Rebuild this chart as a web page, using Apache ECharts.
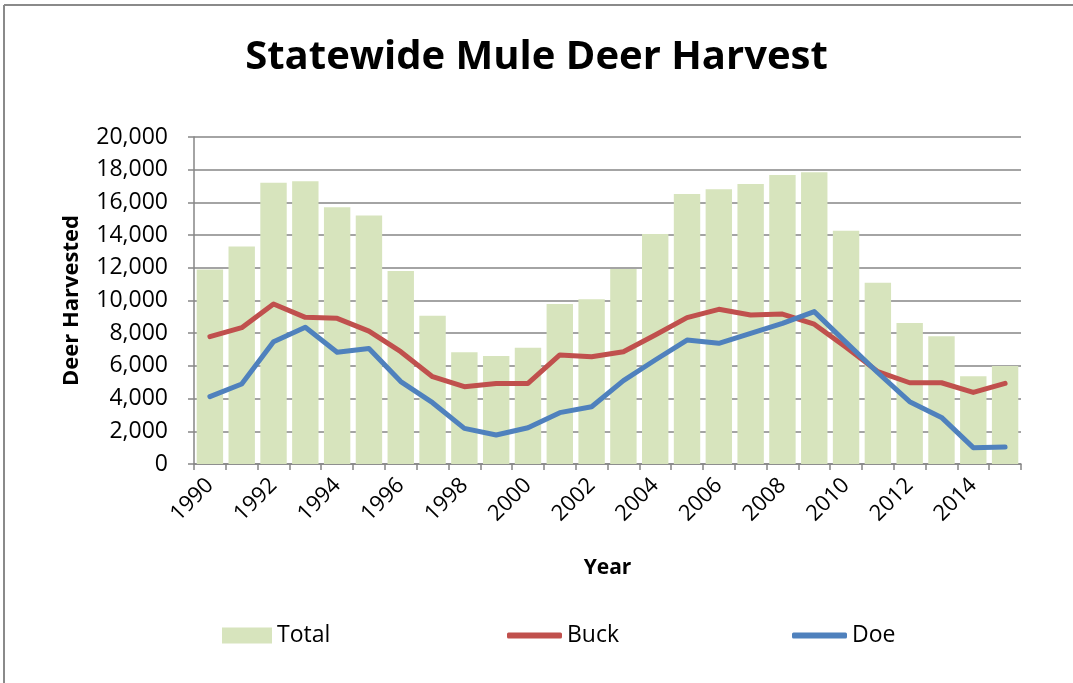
<!DOCTYPE html>
<html>
<head>
<meta charset="utf-8">
<script src="https://cdn.jsdelivr.net/npm/echarts@6/dist/echarts.min.js"></script>
<style>
html,body{margin:0;padding:0;background:#fff;}
#chart{width:1073px;height:683px;}
</style>
</head>
<body>
<div id="chart"></div>
<script>
var years = ['1990','1991','1992','1993','1994','1995','1996','1997','1998','1999','2000','2001','2002','2003','2004','2005','2006','2007','2008','2009','2010','2011','2012','2013','2014','2015'];
var totalValues = [11900,13300,17200,17300,15700,15200,11800,9070,6830,6600,7110,9790,10070,11930,14070,16510,16800,17130,17680,17840,14270,11090,8620,7810,5360,5990];
var buckValues = [7790,8340,9790,8970,8910,8130,6870,5340,4730,4930,4930,6670,6560,6870,7890,8950,9460,9110,9170,8550,7140,5650,4970,4970,4380,4930];
var doeValues = [4120,4890,7480,8360,6830,7070,5040,3750,2180,1770,2220,3140,3500,5100,6360,7580,7380,7990,8600,9320,7440,5580,3810,2850,1000,1040];
var titleText = 'Statewide Mule Deer Harvest';
var xAxisName = 'Year';
var yAxisName = 'Deer Harvested';

var FONT = "'Open Sans', 'Noto Sans', sans-serif";
var chart = echarts.init(document.getElementById('chart'), null, {renderer: 'canvas'});
var legendText = {fontFamily: FONT, fontSize: 23, color: '#000'};
chart.setOption({
  backgroundColor: '#fff',
  animation: false,
  title: {
    text: titleText,
    left: 'center',
    top: 33,
    textStyle: {fontFamily: FONT, fontSize: 40, fontWeight: 'bold', color: '#000'}
  },
  graphic: [
    {type: 'line', shape: {x1: 4, y1: 5, x2: 1073, y2: 5}, style: {stroke: '#8a8a8a', lineWidth: 2}},
    {type: 'line', shape: {x1: 4, y1: 5, x2: 4, y2: 683}, style: {stroke: '#8a8a8a', lineWidth: 2}}
  ],
  legend: [
    {data: [{name: 'Total', icon: 'rect'}], left: 222, top: 624, padding: 0, itemWidth: 50, itemHeight: 16, textStyle: legendText},
    {data: [{name: 'Buck', icon: 'roundRect'}], left: 507, top: 624, padding: 0, itemWidth: 55, itemHeight: 6, textStyle: legendText},
    {data: [{name: 'Doe', icon: 'roundRect'}], left: 792, top: 624, padding: 0, itemWidth: 55, itemHeight: 6, textStyle: legendText}
  ],
  grid: {left: 194, right: 52, top: 137, bottom: 219, containLabel: false},
  xAxis: {
    type: 'category',
    data: years,
    boundaryGap: true,
    name: xAxisName,
    nameLocation: 'middle',
    nameGap: 94,
    nameTextStyle: {fontFamily: FONT, fontSize: 21, fontWeight: 'bold', color: '#000'},
    axisLine: {show: true, lineStyle: {color: '#868686', width: 1.5}},
    axisTick: {show: true, interval: 0, length: 6, alignWithLabel: false, lineStyle: {color: '#868686', width: 1.5}},
    axisLabel: {interval: 1, rotate: 45, fontFamily: FONT, fontSize: 22, color: '#000', margin: 18},
    splitLine: {show: false}
  },
  yAxis: {
    type: 'value',
    min: 0,
    max: 20000,
    interval: 2000,
    name: yAxisName,
    nameLocation: 'middle',
    nameGap: 111,
    nameTextStyle: {fontFamily: FONT, fontSize: 22, fontWeight: 'bold', color: '#000'},
    axisLine: {show: true, lineStyle: {color: '#868686', width: 1.5}},
    axisTick: {show: true, length: 6, lineStyle: {color: '#868686', width: 1.5}},
    axisLabel: {
      fontFamily: FONT, fontSize: 23, color: '#000', margin: 26,
      formatter: function (v) { return v.toLocaleString('en-US'); }
    },
    splitLine: {show: true, lineStyle: {color: '#868686', width: 1.5}}
  },
  series: [
    {
      name: 'Total',
      type: 'bar',
      data: totalValues,
      barCategoryGap: '17%',
      itemStyle: {color: '#d7e4bd'}
    },
    {
      name: 'Buck',
      type: 'line',
      data: buckValues,
      showSymbol: false,
      symbol: 'none',
      lineStyle: {color: '#c0504d', width: 5, cap: 'round', join: 'round'},
      itemStyle: {color: '#c0504d'}
    },
    {
      name: 'Doe',
      type: 'line',
      data: doeValues,
      showSymbol: false,
      symbol: 'none',
      lineStyle: {color: '#4f81bd', width: 5, cap: 'round', join: 'round'},
      itemStyle: {color: '#4f81bd'}
    }
  ]
});
</script>
</body>
</html>
